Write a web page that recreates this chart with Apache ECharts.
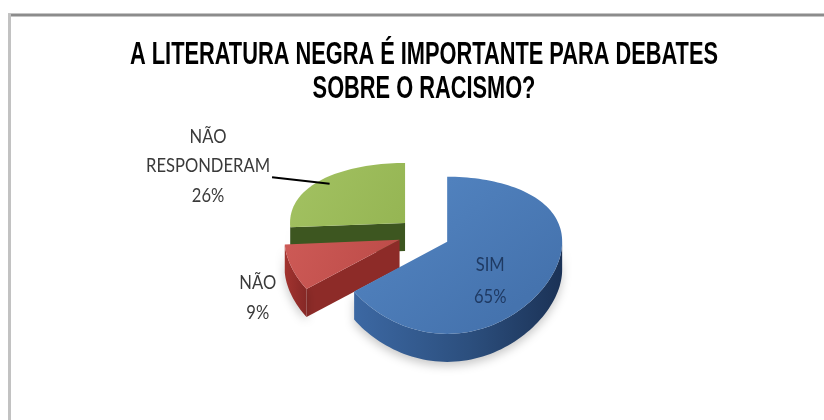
<!DOCTYPE html>
<html>
<head>
<meta charset="utf-8">
<script src="https://cdn.jsdelivr.net/npm/echarts@6/dist/echarts.min.js"></script>
<style>
  html, body { margin: 0; padding: 0; background: #ffffff; }
  #chart { width: 824px; height: 420px; }
</style>
</head>
<body>
<div id="chart"></div>
<script>
// ---- data ----
const categories = ['SIM', 'NÃO', 'NÃO RESPONDERAM'];
const values = [65, 9, 26];
const titleLines = ['A LITERATURA NEGRA É IMPORTANTE PARA DEBATES', 'SOBRE O RACISMO?'];

// ---- look ----
const topColors = [
  { type: 'linear', x: 0, y: 0, x2: 0.6, y2: 1, colorStops: [{ offset: 0, color: '#5587c4' }, { offset: 1, color: '#4573ae' }] },
  { type: 'linear', x: 0, y: 0, x2: 1, y2: 1, colorStops: [{ offset: 0, color: '#cd5a56' }, { offset: 1, color: '#bb4a47' }] },
  { type: 'linear', x: 0, y: 0, x2: 1, y2: 1, colorStops: [{ offset: 0, color: '#a3c262' }, { offset: 1, color: '#95b553' }] }
];
const cutColors = ['#2d5283', '#8d2b28', '#3d5620'];
const wallColors = [
  { type: 'linear', x: 0, y: 0, x2: 1, y2: 0, colorStops: [{ offset: 0, color: '#3c68a3' }, { offset: 0.55, color: '#2c4f7e' }, { offset: 1, color: '#1b3256' }] },
  { type: 'linear', x: 0, y: 0, x2: 1, y2: 0, colorStops: [{ offset: 0, color: '#a2332f' }, { offset: 1, color: '#862826' }] },
  { type: 'linear', x: 0, y: 0, x2: 1, y2: 0, colorStops: [{ offset: 0, color: '#3f5a22' }, { offset: 1, color: '#33481b' }] }
];
const labelColors = ['#1f3a63', '#3a3a3a', '#3a3a3a'];
// label anchor: radius factor along the slice's middle direction, vertical nudge, optional leader start
const labelLayout = [
  { r: 0.42, dy: 3, lineHeight: 32 },
  { r: 1.31, dy: 1, lineHeight: 30 },
  { r: 2.35, dy: 11, lineHeight: 29.5, leader: [64, 11] }
];

// projected 3D pie geometry
const GEO = { cx: 424, cy: 234, r: 115, tilt: 0.64, persp: 0.17, depth: 28, explode: 26 };
const rad = d => d * Math.PI / 180;
function project(u, w, z) {
  const f = 1 / (1 - GEO.persp * w / GEO.r);
  return [GEO.cx + u, GEO.cy + GEO.tilt * w * f + z];
}

const total = values.reduce((s, v) => s + v, 0);
const starts = [];
(function () { let acc = 0; values.forEach(v => { starts.push(acc / total * 360); acc += v; }); })();
// paint order: slices further back first
const backDepth = values.map((v, i) => {
  const mid = starts[i] + v / total * 180;
  return -Math.cos(rad(mid));
});
const rankOf = backDepth.map(d => backDepth.filter(o => o < d).length);

// horizontal compression so the faces fit the narrow lettering
const measureCtx = document.createElement('canvas').getContext('2d');
function textWidth(text, font) { measureCtx.font = font; return measureCtx.measureText(text).width; }
const TITLE_FONT_FAMILY = '"Liberation Sans", Arial, sans-serif';
const LABEL_FONT_FAMILY = 'Lato, "Liberation Sans", sans-serif';
const titleSize = 30.5, labelSize = 19;
const titleScale = 588 / textWidth(titleLines[0], 'bold ' + titleSize + 'px ' + TITLE_FONT_FAMILY);
const labelScale = 124 / textWidth('RESPONDERAM', labelSize + 'px ' + LABEL_FONT_FAMILY);

function poly(points, fill, z2, shadow) {
  const style = { fill: fill, stroke: null };
  if (shadow) {
    style.shadowColor = 'rgba(0,0,0,0.22)';
    style.shadowBlur = 10;
    style.shadowOffsetY = 4;
  }
  return { type: 'polygon', z2: z2, shape: { points: points }, style: style };
}

function renderSlice(params, api) {
  const i = params.dataIndex;
  const v = api.value(0);
  const a0 = starts[i];
  const a1 = a0 + v / total * 360;
  const mid = (a0 + a1) / 2;
  const R = GEO.r, D = GEO.depth;
  const ou = GEO.explode * Math.sin(rad(mid));
  const ow = -GEO.explode * Math.cos(rad(mid));
  const pt = (deg, r, z) => project(ou + r * Math.sin(rad(deg)), ow - r * Math.cos(rad(deg)), z);
  const arc = (s, e, r, z) => {
    const n = Math.max(2, Math.ceil(Math.abs(e - s) / 2));
    const out = [];
    for (let k = 0; k <= n; k++) out.push(pt(s + (e - s) * k / n, r, z));
    return out;
  };
  const base = rankOf[i] * 10;
  const children = [];

  // cut faces that turn toward the viewer
  if (Math.sin(rad(a0)) < -1e-6) {
    children.push(poly([pt(a0, 0, 0), pt(a0, R, 0), pt(a0, R, D), pt(a0, 0, D)], cutColors[i], base + 1));
  }
  if (Math.sin(rad(a1)) > 1e-6) {
    children.push(poly([pt(a1, 0, 0), pt(a1, R, 0), pt(a1, R, D), pt(a1, 0, D)], cutColors[i], base + 1));
  }
  // front part of the rim wall, with a soft shadow beneath
  const s = Math.max(a0, 90), e = Math.min(a1, 270);
  if (e > s) {
    children.push(poly(arc(s, e, R, 0).concat(arc(e, s, R, D)), wallColors[i], base + 2, true));
  }
  // top face
  children.push(poly([pt(a0, 0, 0)].concat(arc(a0, a1, R, 0)), topColors[i], base + 5));

  // data label
  const lay = labelLayout[i];
  const lp = pt(mid, lay.r * R, D * 0.75);
  const lx = lp[0], ly = lp[1] + lay.dy;
  const text = categories[i].split(' ').join('\n') + '\n' + v + '%';
  children.push({
    type: 'text', x: lx, y: ly, scaleX: labelScale, z2: 100,
    style: {
      text: text, fill: labelColors[i], fontSize: labelSize, fontFamily: LABEL_FONT_FAMILY,
      align: 'center', verticalAlign: 'middle', lineHeight: lay.lineHeight
    }
  });
  if (lay.leader) {
    const end = pt(mid, 0.9 * R, 0);
    children.push({
      type: 'line', z2: 100,
      shape: { x1: lx + lay.leader[0], y1: ly + lay.leader[1], x2: end[0], y2: end[1] },
      style: { stroke: '#000000', lineWidth: 2 }
    });
  }
  return { type: 'group', children: children };
}

const chart = echarts.init(document.getElementById('chart'), null, { renderer: 'canvas' });
chart.setOption({
  backgroundColor: '#ffffff',
  animation: false,
  graphic: [
    { type: 'line', shape: { x1: 8, y1: 15, x2: 824, y2: 15 }, style: { stroke: '#8c8c8c', lineWidth: 3 } },
    { type: 'line', shape: { x1: 9.5, y1: 14, x2: 9.5, y2: 420 }, style: { stroke: '#c2c2c2', lineWidth: 3 } },
    {
      type: 'text', x: 424, y: 73, scaleX: titleScale,
      style: {
        text: titleLines.join('\n'), fill: '#000000', fontSize: titleSize, fontWeight: 'bold',
        fontFamily: TITLE_FONT_FAMILY, align: 'center', verticalAlign: 'middle', lineHeight: 34
      }
    }
  ],
  series: [{
    type: 'custom',
    coordinateSystem: 'none',
    renderItem: renderSlice,
    data: values.map((v, i) => ({ name: categories[i], value: [v] }))
  }]
});
</script>
</body>
</html>
